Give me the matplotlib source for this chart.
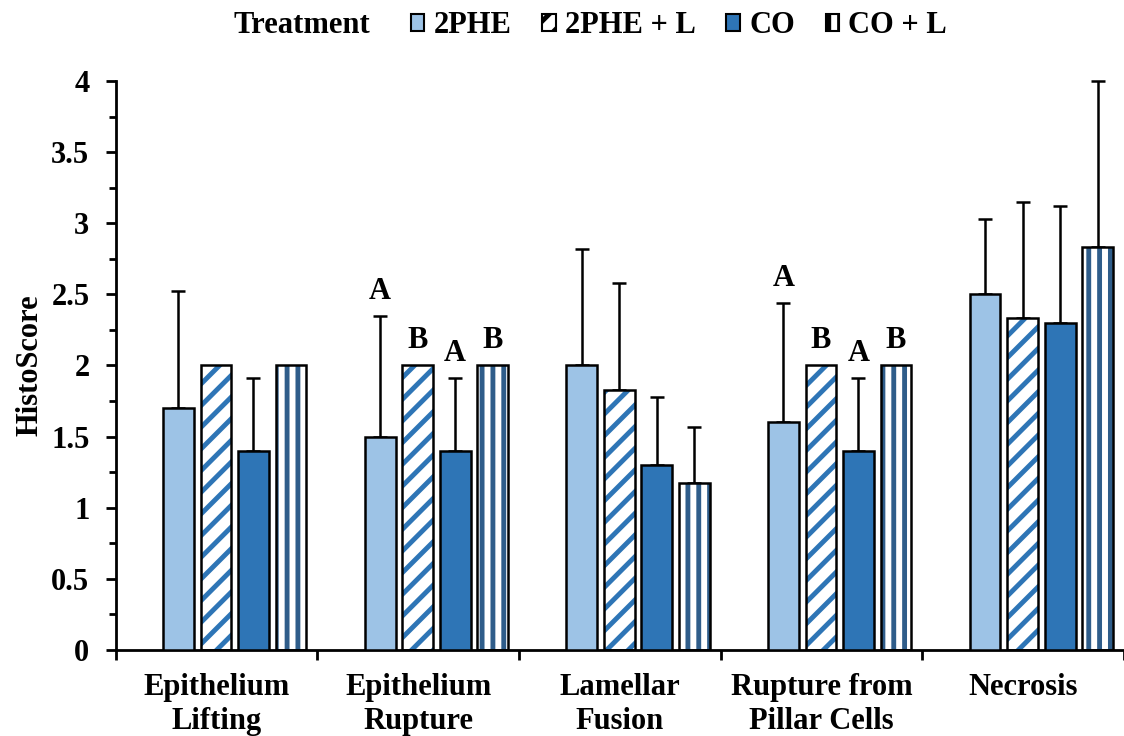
import matplotlib.pyplot as plt
import matplotlib.patches as mpatches
import numpy as np

# Data
categories = ["Epithelium\nLifting", "Epithelium\nRupture", "Lamellar\nFusion",
              "Rupture from\nPillar Cells", "Necrosis"]
treatments = ["2PHE", "2PHE + L", "CO", "CO + L"]
means = {
    "2PHE":     [1.70, 1.50, 2.00, 1.60, 2.50],
    "2PHE + L": [2.00, 2.00, 1.83, 2.00, 2.33],
    "CO":       [1.40, 1.40, 1.30, 1.40, 2.30],
    "CO + L":   [2.00, 2.00, 1.17, 2.00, 2.83],
}
errors = {
    "2PHE":     [0.82, 0.85, 0.82, 0.84, 0.53],
    "2PHE + L": [0.00, 0.00, 0.75, 0.00, 0.82],
    "CO":       [0.51, 0.51, 0.48, 0.51, 0.82],
    "CO + L":   [0.00, 0.00, 0.40, 0.00, 1.17],
}
# significance letters: (category index, treatment, letter)
letters = [(1, "2PHE", "A"), (1, "2PHE + L", "B"), (1, "CO", "A"), (1, "CO + L", "B"),
           (3, "2PHE", "A"), (3, "2PHE + L", "B"), (3, "CO", "A"), (3, "CO + L", "B")]

# style: (face, hatch, hatch colour)
styles = {
    "2PHE":     ("#9DC3E6", None, None),
    "2PHE + L": ("white", "//", "#2E75B6"),
    "CO":       ("#2E75B6", None, None),
    "CO + L":   ("white", "||", "#2F5D8A"),
}

# higher dpi -> wider hatch spacing; k keeps sizes in screen pixels the same
DPI = 130
k = 100 / DPI

plt.rcParams['font.family'] = ['Liberation Serif', 'DejaVu Serif']
plt.rcParams['font.weight'] = 'bold'
plt.rcParams['hatch.linewidth'] = 3.5 * k

FS = 22 * k
LW = 1.8 * k

fig = plt.figure(figsize=(1124 / DPI, 736 / DPI), dpi=DPI)
ax = fig.add_axes([0.103, 0.117, 0.897, 0.773])

x = np.arange(len(categories))
width = 0.153
step = 0.186
shift = 0.09  # groups sit slightly right of the category centre

for i, t in enumerate(treatments):
    face, hatch, hcol = styles[t]
    pos = x + shift + (i - 1.5) * step
    if hatch:
        ax.bar(pos, means[t], width, color=face, edgecolor=hcol, hatch=hatch,
               linewidth=0, zorder=2)
        ax.bar(pos, means[t], width, fill=False, edgecolor='black', linewidth=LW, zorder=3)
    else:
        ax.bar(pos, means[t], width, color=face, edgecolor='black', linewidth=LW, zorder=3)
    err = np.array(errors[t])
    lower = np.zeros_like(err)
    mask = err > 0
    ax.errorbar(pos[mask], np.array(means[t])[mask], yerr=[lower[mask], err[mask]],
                fmt='none', ecolor='black', elinewidth=LW, capsize=5 * k, capthick=LW,
                zorder=1, clip_on=False)

for ci, t, lab in letters:
    i = treatments.index(t)
    top = means[t][ci] + errors[t][ci]
    ax.text(x[ci] + shift + (i - 1.5) * step, top + 0.07, lab, ha='center', va='bottom',
            fontsize=FS, fontweight='bold')

ax.set_xlim(-0.5, len(categories) - 0.5)
ax.set_ylim(0, 4)
ax.set_xticks(x)
ax.set_xticklabels(categories, fontsize=FS, fontweight='bold', linespacing=1.2)
ax.set_xticks(np.arange(len(categories) + 1) - 0.5, minor=True)
ax.tick_params(axis='x', which='major', length=0, pad=17 * k)
ax.tick_params(axis='x', which='minor', length=7 * k, width=2 * k, direction='out')
ax.set_yticks(np.arange(0, 4.01, 0.5))
ax.set_yticklabels(['0', '0.5', '1', '1.5', '2', '2.5', '3', '3.5', '4'])
ax.set_yticks(np.arange(0, 4.01, 0.25), minor=True)
ax.tick_params(axis='y', which='major', length=7 * k, width=2 * k, labelsize=FS, pad=12 * k)
ax.tick_params(axis='y', which='minor', length=5 * k, width=2 * k)
ax.set_ylabel('HistoScore', fontsize=FS, fontweight='bold', labelpad=5 * k)

for s in ['top', 'right']:
    ax.spines[s].set_visible(False)
ax.spines['left'].set_linewidth(2 * k)
ax.spines['bottom'].set_linewidth(2 * k)

handles = []
for t in treatments:
    face, hatch, hcol = styles[t]
    if hatch:
        p = mpatches.Patch(facecolor=face, edgecolor='black', hatch=hatch, linewidth=1.5 * k)
    else:
        p = mpatches.Patch(facecolor=face, edgecolor='black', linewidth=1.5 * k)
    handles.append(p)

fig.text(0.208, 0.965, 'Treatment', fontsize=FS, fontweight='bold', va='center')
fig.legend(handles, treatments, loc='center', bbox_to_anchor=(0.604, 0.965), ncol=4,
           frameon=False, fontsize=FS, handlelength=0.45, handleheight=0.45,
           handletextpad=0.3, columnspacing=1.0)

plt.savefig('out.png', dpi=DPI)
